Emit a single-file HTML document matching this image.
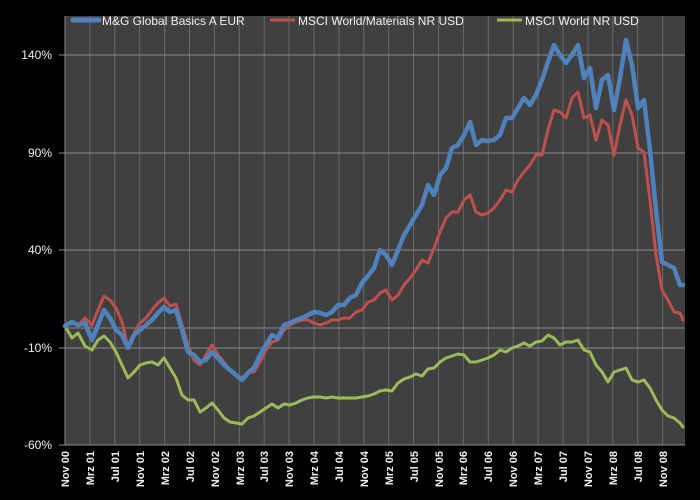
<!DOCTYPE html>
<html><head><meta charset="utf-8"><style>
html,body{margin:0;padding:0;background:#000;}
svg text{font-family:"Liberation Sans",sans-serif;fill:#f0f0f0;}
</style></head><body>
<svg width="700" height="495" xmlns="http://www.w3.org/2000/svg">
<rect width="700" height="495" fill="#000"/>
<rect x="65" y="16" width="620" height="429" fill="#404040"/>
<g stroke="#6a6a6a" stroke-width="1">
<line x1="89.9" y1="16" x2="89.9" y2="445"/><line x1="114.8" y1="16" x2="114.8" y2="445"/><line x1="139.7" y1="16" x2="139.7" y2="445"/><line x1="164.6" y1="16" x2="164.6" y2="445"/><line x1="189.5" y1="16" x2="189.5" y2="445"/><line x1="214.4" y1="16" x2="214.4" y2="445"/><line x1="239.3" y1="16" x2="239.3" y2="445"/><line x1="264.2" y1="16" x2="264.2" y2="445"/><line x1="289.1" y1="16" x2="289.1" y2="445"/><line x1="314" y1="16" x2="314" y2="445"/><line x1="338.9" y1="16" x2="338.9" y2="445"/><line x1="363.8" y1="16" x2="363.8" y2="445"/><line x1="388.7" y1="16" x2="388.7" y2="445"/><line x1="413.6" y1="16" x2="413.6" y2="445"/><line x1="438.5" y1="16" x2="438.5" y2="445"/><line x1="463.4" y1="16" x2="463.4" y2="445"/><line x1="488.3" y1="16" x2="488.3" y2="445"/><line x1="513.2" y1="16" x2="513.2" y2="445"/><line x1="538.1" y1="16" x2="538.1" y2="445"/><line x1="563" y1="16" x2="563" y2="445"/><line x1="587.9" y1="16" x2="587.9" y2="445"/><line x1="612.8" y1="16" x2="612.8" y2="445"/><line x1="637.7" y1="16" x2="637.7" y2="445"/><line x1="662.6" y1="16" x2="662.6" y2="445"/>
</g>
<g stroke="#8a8a8a" stroke-width="1">
<line x1="59" y1="55" x2="685" y2="55"/><line x1="59" y1="153" x2="685" y2="153"/><line x1="59" y1="250" x2="685" y2="250"/><line x1="59" y1="348" x2="685" y2="348"/><line x1="59" y1="445" x2="685" y2="445"/>
<line x1="65" y1="328" x2="685" y2="328"/><line x1="65" y1="16" x2="65" y2="445"/>
</g>
<g font-size="12" text-anchor="end">
<text x="52" y="59">140%</text><text x="52" y="157">90%</text><text x="52" y="254">40%</text><text x="52" y="352">-10%</text><text x="52" y="449">-60%</text>
</g>
<g font-size="11" font-weight="bold" text-anchor="end">
<text transform="translate(69,451) rotate(-90)">Nov 00</text><text transform="translate(94,451) rotate(-90)">Mrz 01</text><text transform="translate(119,451) rotate(-90)">Jul 01</text><text transform="translate(144,451) rotate(-90)">Nov 01</text><text transform="translate(169,451) rotate(-90)">Mrz 02</text><text transform="translate(194,451) rotate(-90)">Jul 02</text><text transform="translate(219,451) rotate(-90)">Nov 02</text><text transform="translate(244,451) rotate(-90)">Mrz 03</text><text transform="translate(268,451) rotate(-90)">Jul 03</text><text transform="translate(293,451) rotate(-90)">Nov 03</text><text transform="translate(318,451) rotate(-90)">Mrz 04</text><text transform="translate(343,451) rotate(-90)">Jul 04</text><text transform="translate(368,451) rotate(-90)">Nov 04</text><text transform="translate(393,451) rotate(-90)">Mrz 05</text><text transform="translate(418,451) rotate(-90)">Jul 05</text><text transform="translate(443,451) rotate(-90)">Nov 05</text><text transform="translate(467,451) rotate(-90)">Mrz 06</text><text transform="translate(492,451) rotate(-90)">Jul 06</text><text transform="translate(517,451) rotate(-90)">Nov 06</text><text transform="translate(542,451) rotate(-90)">Mrz 07</text><text transform="translate(567,451) rotate(-90)">Jul 07</text><text transform="translate(592,451) rotate(-90)">Nov 07</text><text transform="translate(617,451) rotate(-90)">Mrz 08</text><text transform="translate(642,451) rotate(-90)">Jul 08</text><text transform="translate(667,451) rotate(-90)">Nov 08</text>
</g>
<g fill="none" stroke-linejoin="round" stroke-linecap="round">
<polyline stroke="#9bbb59" stroke-width="3" points="65,326 72,338 78,333 85,346 92,350 98,340 104,336 110,342 116,352 122,365 128,378 134,372 140,365 146,363 152,362 158,365 164,358 170,368 176,378 182,395 188,400 194,400 200,412 206,408 212,403 218,410 224,418 230,422 236,423 242,424 248,418 254,416 260,412 266,408 272,404 278,408 284,404 290,405 296,403 302,400 308,398 314,397 320,397 326,398 332,397 338,398 344,398 350,398 356,398 362,397 368,396 374,394 380,391 386,390 392,391 398,383 404,379 410,377 416,374 422,376 428,369 434,368 440,362 446,358 452,356 458,354 464,355 470,362 476,362 482,360 488,358 494,355 500,350 506,352 512,348 518,346 524,343 530,346 536,342 542,341 548,335 554,338 560,345 566,342 572,342 578,340 584,350 590,352 596,365 602,372 608,382 614,372 620,370 626,368 632,380 638,382 644,380 650,388 656,400 662,410 668,416 674,418 680,423 683,427"/>
<polyline stroke="#c0504d" stroke-width="3" points="65,326 72,322 78,325 85,318 92,325 98,310 104,296 110,300 116,308 122,322 128,348 134,333 140,323 146,318 152,310 158,303 164,298 170,306 176,304 182,325 188,345 194,360 200,365 206,355 212,345 218,355 224,362 230,370 236,375 242,378 248,372 254,372 260,362 266,350 272,342 278,340 284,330 290,325 296,322 302,320 308,320 314,323 320,325 326,323 332,320 338,320 344,318 350,318 356,312 362,310 368,302 374,300 380,293 386,290 392,300 398,295 404,285 410,278 416,270 422,260 428,263 434,248 440,232 446,218 452,212 458,212 464,200 470,195 476,212 482,215 488,213 494,208 500,200 506,190 512,192 518,180 524,172 530,165 536,155 542,155 548,130 554,110 560,112 566,118 572,98 578,92 584,118 590,115 596,140 602,120 608,125 614,155 620,125 626,100 632,115 638,148 644,152 650,200 656,255 662,290 668,300 674,312 680,313 683,320"/>
<polyline stroke="#4f81bd" stroke-width="4.5" points="65,326 72,322 78,325 85,323 92,340 98,325 104,310 110,318 116,330 122,335 128,348 134,335 140,330 146,325 152,320 158,313 164,307 170,312 176,310 182,330 188,352 194,355 200,362 206,360 212,352 218,358 224,365 230,370 236,375 242,380 248,373 254,368 260,355 266,345 272,335 278,338 284,325 290,323 296,320 302,318 308,315 314,312 320,313 326,315 332,312 338,305 344,305 350,298 356,295 362,283 368,276 374,268 380,250 386,255 392,265 398,250 404,235 410,225 416,215 422,205 428,185 434,195 440,175 446,168 452,148 458,145 464,135 470,122 476,145 482,140 488,141 494,140 500,135 506,118 512,118 518,108 524,98 530,105 536,95 542,80 548,62 554,45 560,55 566,63 572,55 578,45 584,78 590,68 596,108 602,80 608,75 614,110 620,78 626,40 632,65 638,108 644,100 650,150 656,210 662,262 668,265 674,268 680,285 683,285"/>
</g>
<line x1="73" y1="20" x2="99" y2="20" stroke="#4f81bd" stroke-width="5" stroke-linecap="round"/>
<line x1="270" y1="20" x2="295" y2="20" stroke="#c0504d" stroke-width="3"/>
<line x1="497" y1="20" x2="522" y2="20" stroke="#9bbb59" stroke-width="3"/>
<g font-size="12"><text x="102" y="25">M&amp;G Global Basics A EUR</text><text x="298" y="25">MSCI World/Materials NR USD</text><text x="525" y="25">MSCI World NR USD</text></g>
</svg>
</body></html>
